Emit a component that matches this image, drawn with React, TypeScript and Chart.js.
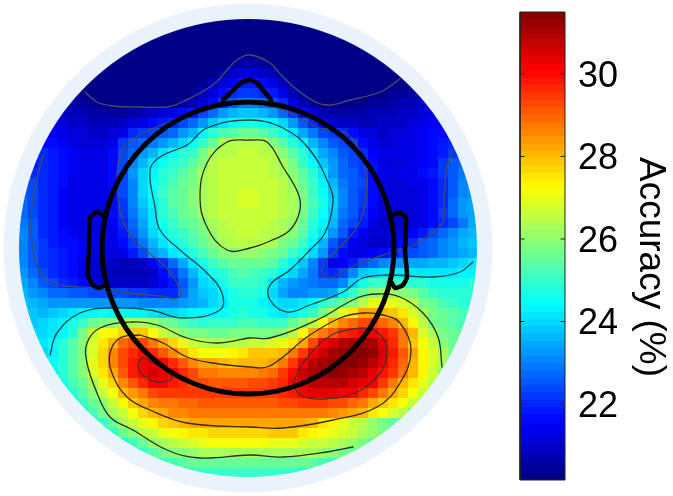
import React, { useEffect, useRef } from "react";
import { Chart, registerables } from "chart.js";

Chart.register(...registerables);

const FONT = "'Liberation Sans', Arial, sans-serif";

// Accuracy in tenths of a percent, one row per 10 units, rows centred on the head.
const accuracyRows: number[][] = [
[202,202,202,202,202,202],
[202,202,202,202,202,202,202,202,202,202,202,202,202,202],
[202,202,202,202,202,202,202,202,202,202,202,202,202,202,202,202,202,202,202,202],
[202,202,202,202,202,202,202,202,202,202,202,202,202,202,202,202,202,202,202,202,202,202,202,202],
[202,202,202,202,202,202,202,202,202,202,202,202,203,203,202,202,202,202,202,202,202,202,202,202,202,202],
[202,202,202,202,202,202,202,202,202,202,202,202,203,204,206,206,205,203,202,202,202,202,202,202,202,202,202,202,202,202],
[202,202,202,202,202,202,202,202,202,202,202,202,203,206,209,212,212,210,207,204,202,202,202,202,202,202,202,202,202,202,202,202],
[202,202,202,202,202,202,202,202,202,202,202,202,204,207,211,215,218,218,216,213,208,205,203,202,202,202,202,202,202,202,202,203,203,204],
[204,203,202,202,202,202,202,202,202,202,202,203,205,208,211,216,220,222,222,221,218,213,208,204,203,202,202,202,202,202,202,203,204,205,206,207],
[208,206,205,204,203,202,202,202,202,202,202,203,205,208,212,216,222,226,229,229,227,224,220,214,208,205,203,202,202,203,203,204,205,206,207,208,210,212],
[210,208,207,206,206,205,205,206,207,209,211,213,216,219,223,227,232,236,238,238,236,233,228,222,216,211,208,206,206,206,206,207,207,208,209,210,212,214],
[213,212,210,209,208,208,208,209,211,214,216,218,220,223,227,233,238,242,245,246,246,245,243,239,232,225,220,214,211,210,209,208,208,209,209,210,212,214,215,216],
[216,215,214,212,211,210,210,211,214,220,222,223,225,228,232,236,243,248,252,254,255,255,254,251,247,241,235,229,224,222,220,216,213,211,210,211,212,213,215,216,217,218],
[217,216,215,213,212,211,212,214,222,225,227,229,232,236,240,245,250,256,262,264,265,265,264,260,254,248,243,236,230,226,224,222,216,213,212,212,213,214,215,216,218,220],
[217,221,218,216,215,214,213,214,216,223,228,232,236,242,245,248,251,258,263,265,265,266,266,265,264,260,254,248,242,235,230,226,224,220,215,213,213,213,214,215,216,219,222,224],
[219,221,219,217,215,214,213,214,216,223,230,236,241,245,248,251,254,260,265,266,266,267,267,266,265,262,257,251,245,238,232,227,224,222,216,213,212,212,213,215,217,222,225,227],
[220,221,219,217,215,214,213,214,217,224,232,239,244,248,251,254,257,262,265,266,267,267,267,266,265,263,260,254,248,241,233,228,225,222,216,214,213,213,214,216,218,222,226,229],
[225,223,221,219,216,214,213,213,214,217,223,231,239,245,249,252,255,258,262,265,266,267,267,267,267,266,265,261,256,250,244,236,229,226,223,217,214,212,212,213,214,217,221,226,230,232],
[226,224,221,218,215,214,213,213,214,217,223,231,239,245,250,253,256,259,262,265,266,267,268,268,267,266,265,263,257,251,245,238,230,226,222,217,213,211,211,212,214,216,221,226,231,233],
[227,224,221,218,215,214,213,213,214,216,222,230,238,244,249,253,256,259,262,265,266,267,268,268,267,266,265,263,258,252,246,240,230,226,222,216,212,211,211,212,213,216,221,227,232,234],
[228,224,221,218,215,214,213,213,214,216,222,229,236,242,248,252,255,258,262,264,266,267,267,267,267,266,265,262,257,251,245,238,229,225,220,215,212,210,210,211,213,217,222,228,233,235],
[232,229,225,221,218,215,214,213,213,214,215,220,227,235,241,246,250,253,256,260,263,265,266,266,266,266,265,263,261,255,249,243,236,228,223,218,213,210,210,210,211,213,217,221,224,229,234,236],
[233,230,225,221,218,216,215,214,214,214,214,218,225,232,239,244,248,251,254,258,261,264,265,266,266,265,264,262,259,253,247,241,232,225,219,215,212,211,211,212,215,219,223,227,231,235,237,238],
[233,230,225,222,219,217,216,215,214,214,214,216,222,229,236,241,245,249,252,255,259,263,264,265,265,264,262,258,255,250,244,236,226,220,215,211,209,209,212,216,221,225,228,231,233,236,238,239],
[233,230,225,222,220,218,216,215,214,213,212,214,219,224,232,237,241,244,248,252,256,259,260,261,261,260,258,255,251,247,240,232,222,216,214,214,215,216,218,222,224,226,228,230,232,234,236,238],
[234,231,225,222,220,218,216,214,212,210,209,208,208,210,215,221,228,235,241,246,250,253,255,256,256,255,253,249,244,238,231,222,214,215,219,223,227,230,232,233,234,235,236,237,238,239,241,242],
[235,232,227,224,221,219,216,213,211,209,208,207,207,208,210,216,222,229,236,242,246,249,252,253,252,251,248,243,240,235,229,222,221,224,231,238,240,241,241,241,241,241,241,241,242,243,243,244],
[236,234,230,226,223,221,219,216,213,211,210,209,209,210,212,215,219,226,233,239,241,247,250,251,250,248,241,236,232,231,229,228,228,230,240,247,250,251,251,250,249,248,247,246,246,247,248,248],
[236,233,230,228,227,226,225,224,224,223,223,222,222,221,220,221,228,234,238,240,243,247,249,249,246,240,234,231,231,232,233,235,243,250,256,260,261,261,260,257,254,251,249,248,248,248],
[238,236,234,232,232,232,232,232,232,233,232,232,231,231,231,231,232,234,236,239,242,246,247,247,243,241,240,240,241,243,248,252,256,259,265,270,272,270,268,264,258,255,252,250,249,249],
[240,238,237,238,239,241,243,244,245,244,244,244,243,241,240,240,241,243,244,243,245,247,248,247,246,244,242,243,247,251,258,263,270,276,282,283,281,279,275,268,262,258,255,253,252,251],
[238,239,241,243,246,250,255,258,260,262,262,262,261,258,255,252,250,249,250,250,251,252,252,251,251,251,255,260,265,272,281,285,289,292,292,289,285,281,273,264,258,255,253,252],
[240,240,241,244,249,257,266,271,274,277,279,278,272,267,263,260,258,257,256,256,257,258,258,258,258,260,264,272,282,287,291,296,299,301,301,299,294,288,280,268,262,258,255,254],
[240,242,245,249,253,259,268,275,281,289,293,292,288,283,277,270,266,264,262,262,264,265,266,267,268,269,275,283,293,301,305,308,311,312,310,303,296,287,279,271,266,260,256,255],
[240,243,248,253,259,268,277,285,292,297,300,296,291,285,280,275,272,271,272,274,276,278,278,279,281,287,294,302,307,310,312,314,315,312,305,298,291,282,274,268,262,257],
[242,245,248,254,260,270,277,285,293,299,302,304,301,296,291,286,282,282,280,279,280,280,281,282,288,295,302,308,311,313,315,314,312,308,303,296,290,281,274,268,263,258],
[244,248,254,259,268,276,282,291,298,302,305,304,302,296,292,288,287,285,285,285,285,287,289,294,300,307,311,313,314,313,311,308,303,299,294,287,280,273,267,261],
[247,252,256,262,269,277,285,291,296,301,301,299,296,293,292,291,291,291,291,292,293,294,296,301,306,308,309,309,308,305,304,301,295,288,281,275,270,264],
[245,249,254,260,266,272,281,284,288,292,294,295,295,295,294,294,294,294,294,294,294,295,296,298,302,303,304,303,302,301,297,293,288,282,277,272,266,261],
[247,251,256,260,266,273,278,283,285,287,288,290,290,291,291,291,291,291,291,291,291,292,293,294,295,295,293,292,290,287,283,279,275,271,266,260],
[248,252,258,263,267,272,277,280,283,285,286,287,287,288,288,288,288,288,288,288,288,288,288,288,287,286,284,283,280,276,272,268,264,259],
[247,251,255,263,267,270,273,277,279,281,283,283,283,283,283,283,283,283,283,283,283,282,280,276,273,270,267,264,261,257,255,254],
[247,251,255,260,264,267,269,271,273,275,276,277,277,277,277,277,277,278,278,278,276,274,272,270,268,266,263,261,258,254],
[249,252,255,261,263,264,266,268,270,271,271,271,271,271,271,270,270,270,268,267,266,264,262,261,258,256],
[249,251,254,257,259,260,261,262,263,263,263,263,262,262,262,262,262,262,262,261,259,258,256,254],
[248,250,252,254,255,256,256,256,256,256,256,256,256,256,255,255,254,252,251,250],
[248,250,250,251,251,251,251,251,251,251,250,250,249,248],
[248,248,248,248,248,248],
];

const contourOuter = [[85,92],[97,102],[113,106],[140,107],[167,107],[180,103],[213,85],[227,70],[237,60],[250,55],[270,63],[283,77],[307,97],[327,105],[350,100],[380,92],[400,79]];
const contourBlue = [[43,155],[39,170],[33,195],[31,220],[31,235],[34,255],[42,275],[50,282],[65,286],[100,288],[130,293],[160,296],[178,298],[180,290],[170,272],[155,258],[145,250],[130,235],[120,210],[117,177],[123,150],[143,133],[187,117],[217,107],[250,103],[283,110],[317,127],[345,133],[358,147],[365,167],[366,200],[357,227],[337,250],[325,262],[322,273],[330,278],[345,270],[360,263],[390,253],[407,248],[430,235],[443,222],[444,200],[447,167],[453,150]];
const contourCyan = [[50,355],[57,333],[80,313],[113,308],[150,310],[183,318],[220,310],[222,293],[207,273],[180,250],[160,230],[155,207],[150,170],[160,157],[187,145],[207,128],[250,120],[283,128],[310,150],[330,187],[333,203],[325,233],[310,250],[290,270],[270,285],[270,300],[287,312],[310,305],[343,292],[363,278],[390,275],[433,277],[460,272],[473,262]];
const contourCentre = [[250,140],[267,142],[283,167],[298,193],[300,210],[290,230],[270,241],[250,248],[227,250],[207,227],[200,197],[207,163],[227,142],[250,140]];
const contourBand = [[442,367],[438,337],[423,313],[400,297],[377,294],[357,298],[317,320],[270,338],[250,338],[217,343],[187,338],[157,325],[133,322],[100,328],[87,343],[87,363],[97,393],[110,417],[133,430],[167,450],[200,458],[250,455],[283,457],[327,452],[353,447]];
const contourOrange = [[140,335],[120,338],[110,353],[112,373],[127,397],[150,410],[187,423],[250,427],[283,428],[333,420],[377,407],[400,383],[411,350],[400,323],[383,315],[363,313],[340,318],[307,337],[283,357],[267,367],[250,367],[213,363],[187,357],[163,343],[140,335]];
const contourLeftPeak = [[143,357],[138,365],[143,375],[157,382],[170,380],[172,375],[157,365],[143,357]];
const contourRightPeak = [[293,383],[303,363],[327,338],[347,330],[370,329],[383,338],[387,353],[380,373],[357,392],[323,399],[300,395],[293,383]];

const headCentre = [248, 248];
const noseLine = [[223,100],[242,82],[250,80],[257,83],[271,100]];
const leftEar = [[103,215],[97,212],[90,218],[89,250],[88,275],[93,285],[99,288],[105,285]];
const rightEar = [[393,215],[400,213],[406,218],[405,250],[407,277],[403,285],[395,288],[392,283]];

const barTicks = [22, 24, 26, 28, 30];
const barMin = 20.16;
const barMax = 31.5;
const barLeft = 520;
const barRight = 565;
const plotTop = 12;
const plotBottom = 480;

function jet(value: number) {
  const t0 = Math.max(0, Math.min(0.9999, (value - barMin) / (barMax - barMin)));
  const t = (Math.floor(t0 * 64) + 0.5) / 64;
  const c = (v: number) => Math.round(255 * Math.max(0, Math.min(1, v)));
  return `rgb(${c(Math.min(4 * t - 1.5, 4.5 - 4 * t))},${c(Math.min(4 * t - 0.5, 3.5 - 4 * t))},${c(Math.min(4 * t + 0.5, 2.5 - 4 * t))})`;
}

function barGradient(ctx: CanvasRenderingContext2D) {
  const g = ctx.createLinearGradient(0, plotBottom, 0, plotTop);
  const step = (barMax - barMin) / 64;
  for (let i = 0; i < 64; i++) {
    const col = jet(barMin + (i + 0.5) * step);
    g.addColorStop(i / 64, col);
    g.addColorStop((i + 1) / 64, col);
  }
  return g;
}

const pts = (list: number[][]) => list.map(([x, y]) => ({ x, y }));

function line(list: number[][], color: string, width: number, tension: number, order: number) {
  return { data: pts(list), showLine: true, pointRadius: 0, borderColor: color, borderWidth: width, tension, order, clip: false as const, fill: false, borderCapStyle: "round" as const, borderJoinStyle: "round" as const };
}

export default function App() {
  const ref = useRef<HTMLCanvasElement>(null);
  useEffect(() => {
    if (!ref.current) return;
    const cells: { x: number; y: number }[] = [];
    const colors: string[] = [];
    accuracyRows.forEach((row, i) => {
      const start = headCentre[0] - (row.length * 10) / 2 + 5;
      row.forEach((v, j) => {
        cells.push({ x: start + j * 10, y: 13 + i * 10 });
        colors.push(jet(v / 10));
      });
    });
    const tickMarks = barTicks.flatMap((v) => [
      { x: barLeft, y: v }, { x: barLeft + 4.5, y: v }, { x: NaN, y: NaN },
      { x: barRight - 4.5, y: v }, { x: barRight, y: v }, { x: NaN, y: NaN },
    ]);
    const barX = (barLeft + barRight) / 2;
    const gradient = barGradient(ref.current.getContext("2d") as CanvasRenderingContext2D);
    const chart = new Chart(ref.current, {
      type: "scatter",
      data: {
        datasets: [
          { data: cells, pointStyle: "rect", pointRadius: 7.08, pointHoverRadius: 7.08, pointBackgroundColor: colors, pointBorderWidth: 0, order: 20, clip: false },
          { data: [{ x: headCentre[0], y: headCentre[1] }], pointStyle: "circle", pointRadius: 236.75, pointBackgroundColor: "rgba(0,0,0,0)", pointBorderColor: "#eaf3fc", pointBorderWidth: 15.5, order: 15, clip: false },
          line(contourOuter, "rgba(85,85,95,0.9)", 1.3, 0.4, 10),
          line(contourBlue, "rgba(75,75,85,0.9)", 1.3, 0.4, 10),
          line(contourCyan, "rgba(40,50,50,0.9)", 1.3, 0.4, 10),
          line(contourCentre, "rgba(35,35,30,0.95)", 1.3, 0.4, 10),
          line(contourBand, "rgba(35,35,30,0.95)", 1.3, 0.4, 10),
          line(contourOrange, "rgba(45,35,30,0.95)", 1.3, 0.4, 10),
          line(contourLeftPeak, "rgba(70,50,50,0.95)", 1.3, 0.4, 10),
          line(contourRightPeak, "rgba(70,50,50,0.95)", 1.3, 0.4, 10),
          line(noseLine, "#000", 4.5, 0.15, 2),
          line(leftEar, "#000", 4.5, 0.2, 2),
          line(rightEar, "#000", 4.5, 0.2, 2),
          { data: [{ x: headCentre[0], y: headCentre[1] }], pointStyle: "circle", pointRadius: 146, pointBackgroundColor: "rgba(0,0,0,0)", pointBorderColor: "#000", pointBorderWidth: 5, order: 1, clip: false },
          { data: [{ x: barX, y: barMin }, { x: barX, y: barMax }], yAxisID: "yBar", showLine: true, pointRadius: 0, borderWidth: barRight - barLeft, borderCapStyle: "butt", tension: 0, order: 6, clip: false, borderColor: gradient },
          { data: [{ x: barLeft, y: barMin }, { x: barRight, y: barMin }, { x: barRight, y: barMax }, { x: barLeft, y: barMax }, { x: barLeft, y: barMin }], yAxisID: "yBar", showLine: true, pointRadius: 0, borderColor: "#222", borderWidth: 1, tension: 0, order: 5, clip: false },
          { data: tickMarks, yAxisID: "yBar", showLine: true, pointRadius: 0, borderColor: "#222", borderWidth: 1, tension: 0, order: 4, clip: false },
        ] as any,
      },
      options: {
        animation: false,
        responsive: false,
        devicePixelRatio: 1,
        events: [],
        layout: { autoPadding: false, padding: { top: plotTop, bottom: 496 - plotBottom, left: 0, right: 0 } },
        plugins: { legend: { display: false }, tooltip: { enabled: false } },
        scales: {
          x: { type: "linear", min: 0, max: barRight, display: false },
          y: { type: "linear", min: plotTop, max: plotBottom, reverse: true, display: false },
          yBar: {
            type: "linear",
            position: "right",
            min: barMin,
            max: barMax,
            grid: { display: false, drawTicks: false },
            border: { display: false },
            ticks: { font: { family: FONT, size: 36 }, color: "#000", padding: 13, labelOffset: 3 },
            afterBuildTicks: (s: any) => { s.ticks = barTicks.map((value) => ({ value })); },
            afterFit: (s: any) => { s.width = 108; s.paddingTop = 0; s.paddingBottom = 0; },
          },
        },
      } as any,
      plugins: [
        {
          id: "sideTitle",
          afterDraw(c: any) {
            const ctx = c.ctx;
            ctx.save();
            ctx.translate(640, 267);
            ctx.rotate(Math.PI / 2);
            ctx.font = `37px ${FONT}`;
            ctx.fillStyle = "#000";
            ctx.textAlign = "center";
            ctx.textBaseline = "alphabetic";
            ctx.fillText("Accuracy (%)", 0, 0);
            ctx.restore();
          },
        },
      ],
    });
    return () => chart.destroy();
  }, []);
  return (
    <div style={{ position: "absolute", left: 0, top: 0, width: 673, height: 496 }}>
      <canvas ref={ref} width={673} height={496} style={{ display: "block" }} />
    </div>
  );
}
